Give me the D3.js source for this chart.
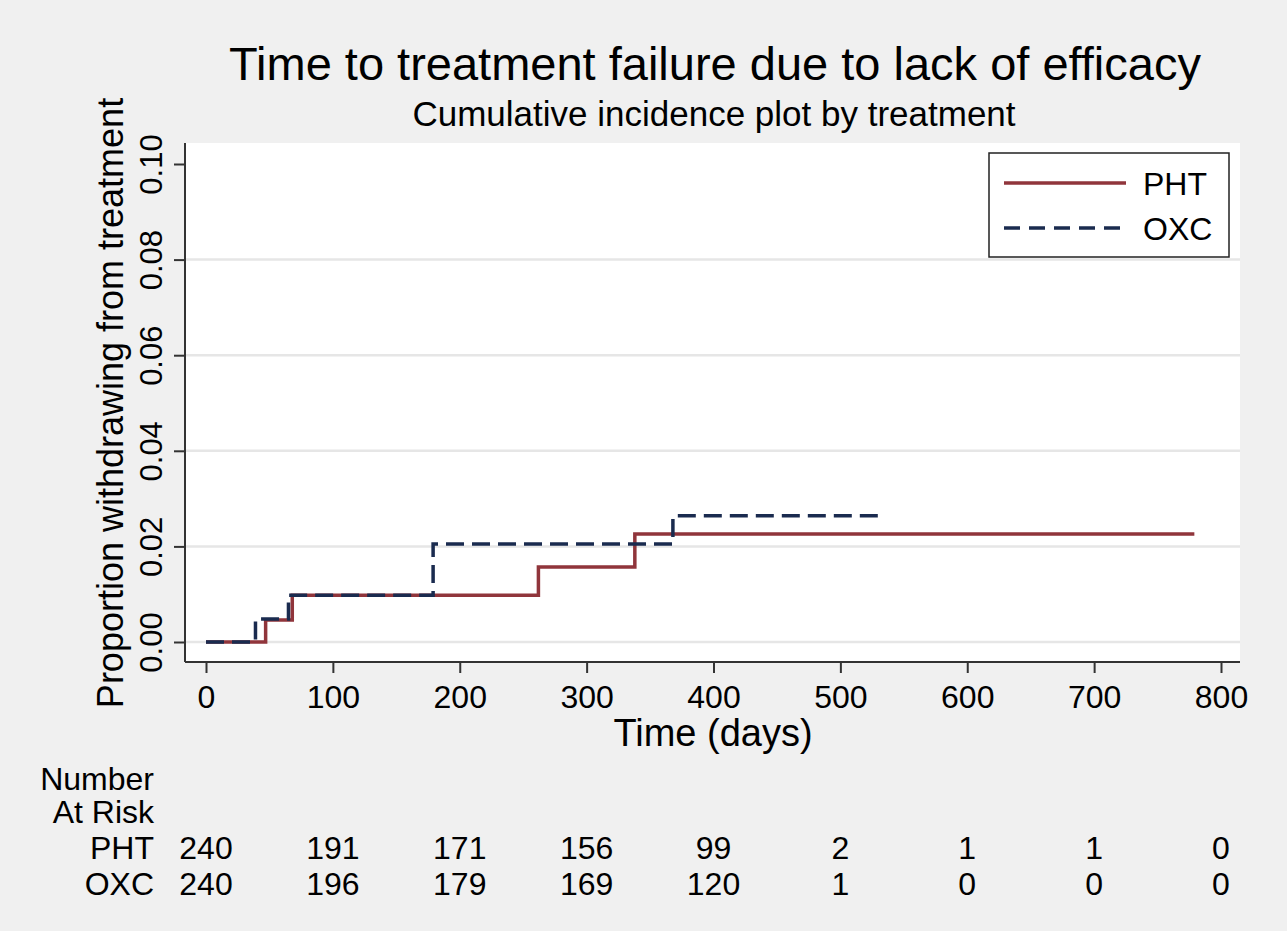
<!DOCTYPE html>
<html>
<head>
<meta charset="utf-8">
<script src="https://cdn.jsdelivr.net/npm/d3@7"></script>
<style>
  body { margin: 0; background: #f0f0f0; }
  text { font-family: "Liberation Sans", Arial, sans-serif; fill: #000; }
</style>
</head>
<body>
<script>
// step data: [day, cumulative incidence]
var phtSteps = [[0, 0], [47, 0.0046], [68, 0.0098], [262, 0.0157], [338, 0.0226], [779, 0.0226]];
var oxcSteps = [[0, 0], [39, 0.0048], [65, 0.0098], [179, 0.0205], [368, 0.0264], [533, 0.0264]];

var xTicks = [0, 100, 200, 300, 400, 500, 600, 700, 800];
var yTicks = [0, 0.02, 0.04, 0.06, 0.08, 0.10];
var gridTicks = [0, 0.02, 0.04, 0.06, 0.08];

var riskGroups = ["PHT", "OXC"];
var phtRisk = [240, 191, 171, 156, 99, 2, 1, 1, 0];
var oxcRisk = [240, 196, 179, 169, 120, 1, 0, 0, 0];

var w = 1287, h = 931;
var pht = "#90353b", oxc = "#1a2b4f";
var font = "Liberation Sans, Arial, sans-serif";

var svg = d3.select("body").append("svg")
    .attr("width", w)
    .attr("height", h);

svg.append("rect")
    .attr("width", w)
    .attr("height", h)
    .attr("fill", "#f0f0f0");

var x = d3.scaleLinear().domain([0, 800]).range([206, 1221]);
var y = d3.scaleLinear().domain([0, 0.10]).range([642, 164]);

// plot region
svg.append("rect")
    .attr("x", 185).attr("y", 143)
    .attr("width", 1240 - 185).attr("height", 662 - 143)
    .attr("fill", "#fff");

svg.append("g").selectAll("line")
    .data(gridTicks)
  .enter().append("line")
    .attr("x1", 186).attr("x2", 1240)
    .attr("y1", function(d) { return y(d); })
    .attr("y2", function(d) { return y(d); })
    .attr("stroke", "#e6e6e6")
    .attr("stroke-width", 2.5);

// axes
var yAxis = d3.axisLeft(y).tickValues(yTicks).tickSize(11).tickFormat(d3.format(".2f"));
var gy = svg.append("g").attr("transform", "translate(185,0)").call(yAxis);
gy.select(".domain").attr("d", "M0,143V662").attr("stroke", "#333").attr("stroke-width", 2);
gy.selectAll(".tick line").attr("stroke", "#333").attr("stroke-width", 2);
gy.selectAll(".tick text")
    .attr("font-size", 31)
    .attr("font-family", font)
    .attr("fill", "#000")
    .attr("x", 0).attr("y", 0).attr("dy", 0)
    .attr("text-anchor", "middle")
    .attr("transform", "translate(-23,0) rotate(-90)");

var xAxis = d3.axisBottom(x).tickValues(xTicks).tickSize(11);
var gx = svg.append("g").attr("transform", "translate(0,662)").call(xAxis);
gx.select(".domain").attr("d", "M185,0H1240").attr("stroke", "#333").attr("stroke-width", 2);
gx.selectAll(".tick line").attr("stroke", "#333").attr("stroke-width", 2);
gx.selectAll(".tick text")
    .attr("font-size", 32)
    .attr("font-family", font)
    .attr("fill", "#000")
    .attr("dy", 0)
    .attr("y", 46);

// step lines
var line = d3.line()
    .curve(d3.curveStepAfter)
    .x(function(d) { return x(d[0]); })
    .y(function(d) { return y(d[1]); });

svg.append("path")
    .datum(phtSteps)
    .attr("d", line)
    .attr("fill", "none")
    .attr("stroke", pht)
    .attr("stroke-width", 3.5);

svg.append("path")
    .datum(oxcSteps)
    .attr("d", line)
    .attr("fill", "none")
    .attr("stroke", oxc)
    .attr("stroke-width", 3.5)
    .attr("stroke-dasharray", "18,8");

// legend
var lg = svg.append("g");
lg.append("rect")
    .attr("x", 989).attr("y", 153)
    .attr("width", 240).attr("height", 104)
    .attr("fill", "#fff")
    .attr("stroke", "#222")
    .attr("stroke-width", 1.5);
lg.append("line")
    .attr("x1", 1004).attr("x2", 1126).attr("y1", 183).attr("y2", 183)
    .attr("stroke", pht).attr("stroke-width", 3.5);
lg.append("line")
    .attr("x1", 1004).attr("x2", 1126).attr("y1", 228).attr("y2", 228)
    .attr("stroke", oxc).attr("stroke-width", 3.5)
    .attr("stroke-dasharray", "16,9");
lg.append("text").attr("x", 1143).attr("y", 195).attr("font-size", 32).text("PHT");
lg.append("text").attr("x", 1143).attr("y", 240).attr("font-size", 32).text("OXC");

// titles
svg.append("text")
    .attr("x", 715).attr("y", 80)
    .attr("text-anchor", "middle")
    .attr("font-size", 47)
    .text("Time to treatment failure due to lack of efficacy");
svg.append("text")
    .attr("x", 714).attr("y", 126)
    .attr("text-anchor", "middle")
    .attr("font-size", 35)
    .text("Cumulative incidence plot by treatment");

svg.append("text")
    .attr("transform", "translate(123,403) rotate(-90)")
    .attr("text-anchor", "middle")
    .attr("font-size", 36)
    .text("Proportion withdrawing from treatment");

svg.append("text")
    .attr("x", 713).attr("y", 746)
    .attr("text-anchor", "middle")
    .attr("font-size", 38)
    .text("Time (days)");

// number at risk table
svg.append("text").attr("x", 154).attr("y", 790).attr("text-anchor", "end").attr("font-size", 32).text("Number");
svg.append("text").attr("x", 154).attr("y", 823).attr("text-anchor", "end").attr("font-size", 32).text("At Risk");

var riskRows = [phtRisk, oxcRisk];
riskRows.forEach(function(row, i) {
  var yy = 859 + i * 36;
  svg.append("text").attr("x", 154).attr("y", yy).attr("text-anchor", "end").attr("font-size", 32).text(riskGroups[i]);
  svg.append("g").selectAll("text")
      .data(row)
    .enter().append("text")
      .attr("x", function(d, j) { return x(xTicks[j]); })
      .attr("y", yy)
      .attr("text-anchor", "middle")
      .attr("font-size", 32)
      .text(function(d) { return d; });
});
</script>
</body>
</html>
